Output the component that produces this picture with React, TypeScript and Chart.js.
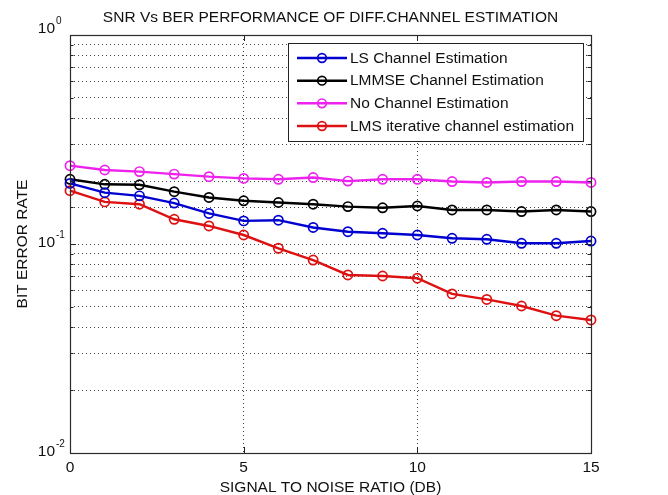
import React, { useEffect, useRef } from 'react';
import { Chart, registerables } from 'chart.js';

Chart.register(...registerables);

// ---------- data ----------
const snrDb = [0, 1, 2, 3, 4, 5, 6, 7, 8, 9, 10, 11, 12, 13, 14, 15];
const lsBer = [0.195, 0.176, 0.17, 0.157, 0.14, 0.129, 0.13, 0.12, 0.1145, 0.1125, 0.1104, 0.1065, 0.1053, 0.1008, 0.1008, 0.1033];
const lmmseBer = [0.204, 0.193, 0.192, 0.178, 0.167, 0.161, 0.158, 0.155, 0.151, 0.149, 0.152, 0.1455, 0.1455, 0.143, 0.1455, 0.143];
const noEstBer = [0.237, 0.226, 0.222, 0.216, 0.21, 0.206, 0.204, 0.208, 0.2, 0.204, 0.204, 0.199, 0.197, 0.199, 0.199, 0.197];
const lmsBer = [0.18, 0.159, 0.155, 0.1313, 0.122, 0.1104, 0.0954, 0.0838, 0.0711, 0.0703, 0.0686, 0.0577, 0.0543, 0.0505, 0.0454, 0.0433];

const seriesNames = ['LS Channel Estimation', 'LMMSE Channel Estimation', 'No Channel Estimation', 'LMS iterative channel estimation'];
const seriesColors = ['#0000d0', '#000000', '#ee22ee', '#dd1111'];
const seriesValues = [lsBer, lmmseBer, noEstBer, lmsBer];

const xTickValues = [0, 5, 10, 15];
const yDecadeValues = [0.01, 0.1, 1];
const yDecadeBase = ['10', '10', '10'];
const yDecadeExponents = ['-2', '-1', '0'];

const chartTitle = 'SNR Vs BER PERFORMANCE OF DIFF.CHANNEL ESTIMATION';
const xTitle = 'SIGNAL TO NOISE RATIO (DB)';
const yTitle = 'BIT ERROR RATE';

// ---------- styles ----------
const FAMILY = '"Liberation Sans", Arial, Helvetica, sans-serif';
const TEXT = '#111111';
const FS = 15.5;
const LINE_W = 2.4;

const matlabPlugin = {
  id: 'matlabDecor',
  afterDraw(chart: any) {
    const { ctx, chartArea } = chart;
    const { left, right, top, bottom } = chartArea;
    const ys = chart.scales.y;
    const xs = chart.scales.x;
    ctx.save();

    // inner tick marks
    ctx.strokeStyle = '#222';
    ctx.lineWidth = 1;
    ctx.beginPath();
    ys.ticks.forEach((t: any) => {
      const py = Math.round(ys.getPixelForValue(t.value)) + 0.5;
      const dec = yDecadeValues.some((d) => Math.abs(d - t.value) < 1e-9);
      const len = dec ? 6 : 3.5;
      ctx.moveTo(left, py);
      ctx.lineTo(left + len, py);
      ctx.moveTo(right, py);
      ctx.lineTo(right - len, py);
    });
    xTickValues.forEach((v) => {
      const px = Math.round(xs.getPixelForValue(v)) + 0.5;
      ctx.moveTo(px, bottom);
      ctx.lineTo(px, bottom - 6);
      ctx.moveTo(px, top);
      ctx.lineTo(px, top + 6);
    });
    ctx.stroke();

    // frame
    ctx.strokeStyle = '#2b2b2b';
    ctx.lineWidth = 1.2;
    ctx.strokeRect(Math.round(left) + 0.5, Math.round(top) + 0.5, Math.round(right - left), Math.round(bottom - top));

    // y decade labels with exponent
    ctx.fillStyle = TEXT;
    yDecadeValues.forEach((v, i) => {
      const py = ys.getPixelForValue(v) - (v === 1 ? 6 : 1);
      ctx.font = `${FS}px ${FAMILY}`;
      ctx.textAlign = 'right';
      ctx.textBaseline = 'middle';
      ctx.fillText(yDecadeBase[i], left - 15, py);
      ctx.font = `10px ${FAMILY}`;
      ctx.textAlign = 'left';
      ctx.fillText(yDecadeExponents[i], left - 14, py - 8);
    });

    // legend box
    ctx.font = `${FS}px ${FAMILY}`;
    let maxW = 0;
    seriesNames.forEach((n) => {
      maxW = Math.max(maxW, ctx.measureText(n).width);
    });
    const boxW = Math.round(62 + maxW + 9);
    const boxH = 98;
    const bx = Math.round(right - 8 - boxW);
    const by = Math.round(top + 8);
    ctx.fillStyle = '#ffffff';
    ctx.fillRect(bx, by, boxW, boxH);
    ctx.strokeStyle = '#222';
    ctx.lineWidth = 1;
    ctx.strokeRect(bx + 0.5, by + 0.5, boxW, boxH);
    const rowY = [15, 37.7, 60.3, 83];
    seriesNames.forEach((n, i) => {
      const y = by + rowY[i];
      ctx.strokeStyle = seriesColors[i];
      ctx.lineWidth = LINE_W;
      ctx.beginPath();
      ctx.moveTo(bx + 9, y);
      ctx.lineTo(bx + 59, y);
      ctx.stroke();
      ctx.lineWidth = 1.7;
      ctx.beginPath();
      ctx.arc(bx + 34, y, 4.3, 0, Math.PI * 2);
      ctx.stroke();
      ctx.fillStyle = TEXT;
      ctx.textAlign = 'left';
      ctx.textBaseline = 'middle';
      ctx.fillText(n, bx + 62, y + 0.5);
    });

    ctx.restore();
  },
};

export default function App() {
  const ref = useRef<HTMLCanvasElement>(null);

  useEffect(() => {
    if (!ref.current) return;
    const datasets = seriesNames.map((name, i) => ({
      label: name,
      data: snrDb.map((x, j) => ({ x, y: seriesValues[i][j] })),
      borderColor: seriesColors[i],
      backgroundColor: seriesColors[i],
      borderWidth: LINE_W,
      pointRadius: 4.6,
      pointBorderWidth: 1.7,
      pointBackgroundColor: 'rgba(0,0,0,0)',
      pointBorderColor: seriesColors[i],
      pointStyle: 'circle',
      tension: 0,
      fill: false,
      clip: false as any,
    }));

    const chart = new Chart(ref.current, {
      type: 'line',
      data: { datasets },
      options: {
        responsive: false,
        animation: false,
        events: [],
        layout: { padding: { left: 0, right: 77, top: 0, bottom: 0 } },
        plugins: {
          legend: { display: false },
          tooltip: { enabled: false },
          title: {
            display: true,
            text: chartTitle,
            fullSize: false,
            color: TEXT,
            font: { family: FAMILY, size: FS, weight: 'normal', lineHeight: 1.2 },
            padding: { top: 8.5, bottom: 7.9 },
          },
        },
        scales: {
          x: {
            type: 'linear',
            min: 0,
            max: 15,
            afterBuildTicks: (s: any) => {
              s.ticks = xTickValues.map((v) => ({ value: v }));
            },
            ticks: {
              stepSize: 5,
              padding: 5,
              color: TEXT,
              maxRotation: 0,
              autoSkip: false,
              font: { family: FAMILY, size: FS, lineHeight: 1.2 },
            },
            grid: { color: 'rgba(0,0,0,0.75)', lineWidth: 1, drawTicks: false },
            border: { display: false, dash: [1, 3] },
            title: {
              display: true,
              text: xTitle,
              color: TEXT,
              font: { family: FAMILY, size: FS, lineHeight: 1 },
              padding: { top: 0, bottom: 0 },
            },
            afterFit: (s: any) => {
              s.height = 42;
            },
          },
          y: {
            type: 'logarithmic',
            min: 0.01,
            max: 1,
            ticks: { display: false, autoSkip: false },
            grid: { color: 'rgba(0,0,0,0.75)', lineWidth: 1, drawTicks: false },
            border: { display: false, dash: [1, 3] },
            title: {
              display: true,
              text: yTitle,
              color: TEXT,
              font: { family: FAMILY, size: FS, lineHeight: 1.2 },
              padding: { top: 13.5, bottom: 0 },
            },
            afterFit: (s: any) => {
              s.width = 70;
            },
          },
        },
      } as any,
      plugins: [matlabPlugin],
    });
    return () => chart.destroy();
  }, []);

  return (
    <div style={{ position: 'fixed', left: 0, top: 0, width: 668, height: 495, background: '#ffffff' }}>
      <canvas ref={ref} width={668} height={495} style={{ display: 'block', width: 668, height: 495 }} />
    </div>
  );
}
